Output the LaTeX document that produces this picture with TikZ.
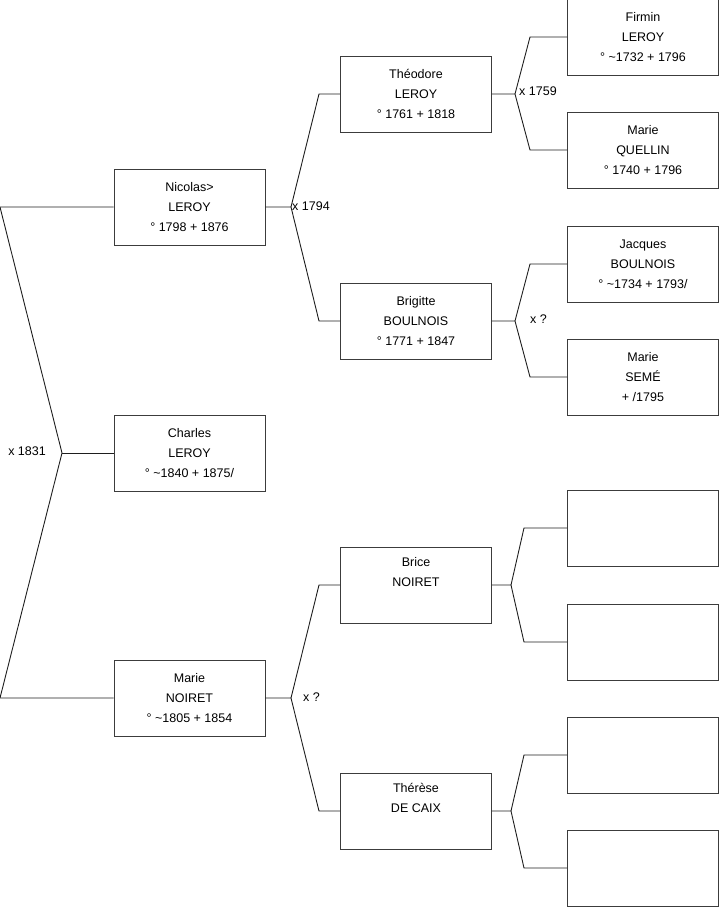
\documentclass[tikz,border=0pt]{standalone}
\usepackage{fontspec}
\setmainfont{Liberation Sans}
\begin{document}
\begin{tikzpicture}[x=1pt, y=-1pt,
    person/.style={draw=myboxline, line width=0.9pt, fill=white, minimum width=151pt,
        minimum height=76pt, align=center, inner sep=0pt,
        font=\fontsize{12.5}{20}\selectfont},
    link/.style={draw=mylink, line width=0.9pt},
    wed/.style={font=\fontsize{12.5}{15}\selectfont, inner sep=0pt}]
    \definecolor{myboxline}{RGB}{60,60,60}
    \definecolor{mylink}{RGB}{30,30,30}

    \useasboundingbox (0,0) rectangle (719,908);

    % generation 1
    \node[person] (nicolas) at (189.5,207) {Nicolas>\\LEROY\\° 1798 + 1876};
    \node[person] (charles) at (189.5,453) {Charles\\LEROY\\° \textasciitilde1840 + 1875/};
    \node[person] (marieN) at (189.5,698) {Marie\\NOIRET\\° \textasciitilde1805 + 1854};

    % generation 2
    \node[person] (theodore) at (416,94) {Théodore\\LEROY\\° 1761 + 1818};
    \node[person] (brigitte) at (416,321) {Brigitte\\BOULNOIS\\° 1771 + 1847};
    \node[person] (brice) at (416,585) {Brice\\NOIRET\\\strut};
    \node[person] (therese) at (416,811) {Thérèse\\DE CAIX\\\strut};

    % generation 3
    \node[person] (firmin) at (643,37) {Firmin\\LEROY\\° \textasciitilde1732 + 1796};
    \node[person] (marieQ) at (643,150) {Marie\\QUELLIN\\° 1740 + 1796};
    \node[person] (jacques) at (643,264) {Jacques\\BOULNOIS\\° \textasciitilde1734 + 1793/};
    \node[person] (marieS) at (643,377) {Marie\\SEMÉ\\+ /1795};
    \node[person] (e1) at (643,528) {};
    \node[person] (e2) at (643,642) {};
    \node[person] (e3) at (643,755) {};
    \node[person] (e4) at (643,868) {};

    % fork of Charles
    \coordinate (cf) at (62,453);
    \coordinate (ct) at (0,207);
    \coordinate (cb) at (0,698);
    \draw[link] (charles.west) -- (cf);
    \draw[link] (nicolas.west) -- (ct) -- (cf) -- (cb) -- (marieN.west);
    \node[wed, anchor=east] (w1831) at (46,451) {x 1831};

    % fork of Nicolas
    \coordinate (nf) at (291,207);
    \draw[link] (nicolas.east) -- (nf) -- (319,94) -- (theodore.west);
    \draw[link] (nf) -- (319,321) -- (brigitte.west);
    \node[wed, anchor=west] (w1794) at (292,206) {x 1794};

    % fork of Marie NOIRET
    \coordinate (mf) at (291,698);
    \draw[link] (marieN.east) -- (mf) -- (319,585) -- (brice.west);
    \draw[link] (mf) -- (319,811) -- (therese.west);
    \node[wed, anchor=west] (wmn) at (303,697) {x ?};

    % fork of Théodore
    \coordinate (tf) at (515,94);
    \draw[link] (theodore.east) -- (tf) -- (530,37) -- (firmin.west);
    \draw[link] (tf) -- (530,150) -- (marieQ.west);
    \node[wed, anchor=west] (w1759) at (519,91) {x 1759};

    % fork of Brigitte
    \coordinate (bf) at (515,321);
    \draw[link] (brigitte.east) -- (bf) -- (530,264) -- (jacques.west);
    \draw[link] (bf) -- (530,377) -- (marieS.west);
    \node[wed, anchor=west] (wbr) at (530,319) {x ?};

    % fork of Brice
    \coordinate (rf) at (511,585);
    \draw[link] (brice.east) -- (rf) -- (524,528) -- (e1.west);
    \draw[link] (rf) -- (524,642) -- (e2.west);

    % fork of Thérèse
    \coordinate (hf) at (511,811);
    \draw[link] (therese.east) -- (hf) -- (524,755) -- (e3.west);
    \draw[link] (hf) -- (524,868) -- (e4.west);
\end{tikzpicture}
\end{document}
